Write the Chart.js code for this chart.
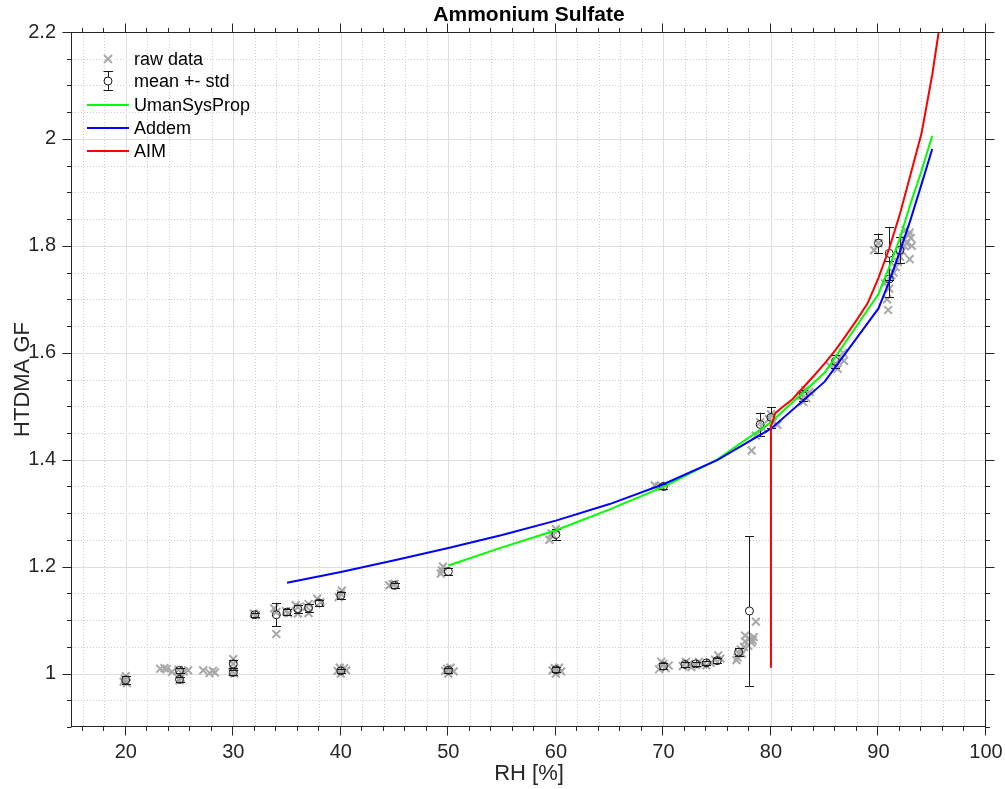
<!DOCTYPE html>
<html><head><meta charset="utf-8">
<script src="https://cdn.jsdelivr.net/npm/chart.js@4.4.1/dist/chart.umd.min.js"></script>
<style>html,body{margin:0;padding:0;background:#fff;overflow:hidden}</style>
</head><body>
<canvas id="c" width="1005" height="789" style="display:block;width:1005px;height:789px"></canvas>
<script>
// ---------- data ----------
const rawRH = [19.8,20.0,20.1,19.9, 23.2,23.6,23.8, 24.3,24.9,25.0,25.1,25.8,25.4, 27.2,27.8,28.3,28.1,
  30.0,30.0,29.9,30.1, 31.9,32.1, 34.0,33.8,34.0, 34.9,35.1, 36.0,36.0,35.8, 37.0,37.0,36.8, 37.8,38.1,
  39.8,40.0,40.1,39.7,40.0,40.3,40.5,39.9, 44.5,44.8,45.0,
  49.4,49.3,49.5,49.7,50.0,50.2,50.5,49.9,
  59.4,59.7,60.0,59.6,59.7,60.0,60.3,60.5,59.9,
  69.2,69.6,69.9,69.6,70.0,70.2,70.5,69.8,
  71.8,72.1,72.4,72.6,73.0,73.3,73.7,74.0,74.4,74.8,75.1,75.3,
  76.8,76.9,77.0,77.2,77.3,77.5,77.6,77.9,77.6,78.0,78.2,78.4,78.3,78.6,78.2,
  78.6,79.0,79.3,80.0,80.2,80.6,79.8,
  82.8,83.0,83.3,83.6,83.2,
  85.5,86.0,86.2,86.5,86.7,86.8,
  89.6,90.0,
  90.6,90.8,90.9,91.0,91.2,91.4,91.6,
  91.8,92.0,92.2,92.4,92.6,92.8,93.0,92.9,93.1,92.9,92.5,92.3];
const rawGF = [0.985,0.995,0.982,0.990, 1.009,1.010,1.008, 1.003,1.007,0.987,0.992,1.006,1.004, 1.006,1.001,1.002,1.005,
  1.027,1.018,1.003,1.000, 1.112,1.109, 1.074,1.122,1.115, 1.117,1.113, 1.124,1.112,1.128, 1.130,1.113,1.125, 1.140,1.133,
  1.143,1.149,1.155,1.005,1.000,1.010,1.006,1.011, 1.165,1.167,1.168,
  1.193,1.187,1.200,1.005,1.000,1.011,1.004,1.009,
  1.250,1.258,1.270,1.262,1.006,1.000,1.011,1.004,1.010,
  1.352,1.350,1.349,1.008,1.018,1.010,1.015,1.022,
  1.014,1.022,1.018,1.012,1.016,1.022,1.017,1.015,1.020,1.026,1.034,1.028,
  1.025,1.030,1.038,1.045,1.037,1.050,1.060,1.052,1.071,1.065,1.058,1.068,1.062,1.097,1.417,
  1.445,1.470,1.458,1.485,1.470,1.465,1.476,
  1.520,1.508,1.515,1.527,1.530,
  1.575,1.580,1.570,1.590,1.600,1.585,
  1.792,1.805,
  1.730,1.700,1.680,1.720,1.745,1.750,1.760,
  1.770,1.780,1.790,1.800,1.805,1.820,1.815,1.825,1.800,1.775,1.830,1.815];

const meanRH  = [20,25,25,30,30,32,34,35,36,37,38,40,40,45,50,50,60,60,70,70,72,73,74,75,77,78,79,80,83,86,90,91,91,92];
const meanGF  = [0.988,1.006,0.989,1.018,1.002,1.110,1.110,1.115,1.121,1.123,1.132,1.146,1.005,1.165,1.191,1.006,1.260,1.007,1.350,1.014,1.017,1.018,1.020,1.024,1.040,1.117,1.466,1.479,1.520,1.584,1.805,1.786,1.738,1.792];
const meanStd = [0.008,0.005,0.005,0.008,0.005,0.004,0.022,0.005,0.008,0.008,0.005,0.006,0.004,0.005,0.007,0.005,0.010,0.005,0.004,0.005,0.005,0.004,0.004,0.005,0.008,0.140,0.022,0.019,0.010,0.012,0.018,0.049,0.033,0.024];

const umanRH = [50,55,60,65,70,75,80,85,90,91,92,93,94,95];
const umanGF = [1.202,1.236,1.268,1.307,1.349,1.400,1.470,1.563,1.710,1.760,1.815,1.880,1.940,2.006];

const addemRH = [35,40,45,50,55,60,65,70,75,80,85,90,91,92,93,94,95];
const addemGF = [1.170,1.190,1.212,1.235,1.259,1.286,1.317,1.354,1.399,1.458,1.546,1.683,1.733,1.790,1.850,1.915,1.981];

const aimRH = [80,80,80.4,81,82,83,84,85,86,87,88,89,90,91,92,93,94,95,95.6];
const aimGF = [1.011,1.462,1.487,1.497,1.513,1.535,1.557,1.580,1.605,1.633,1.662,1.693,1.740,1.795,1.860,1.935,2.010,2.120,2.200];

const xTicks = [20,30,40,50,60,70,80,90,100];
const yTicks = [1.0,1.2,1.4,1.6,1.8,2.0,2.2];

const seriesNames = ['raw data','mean +- std','UmanSysProp','Addem','AIM'];
const titleText = 'Ammonium Sulfate';
const xTitle = 'RH [%]';
const yTitle = 'HTDMA GF';

// ---------- styling ----------
const FONT = "'Liberation Sans', Arial, Helvetica, sans-serif";
const AXC = '#262626';
const GRAY = '#a8a8a8';
const GREEN = '#00ff00', BLUE = '#0000ff', RED = '#ff0000';

const pts = (xs, ys) => xs.map((v, i) => ({x: v, y: ys[i]}));

function seg(ctx, x1, y1, x2, y2) { ctx.beginPath(); ctx.moveTo(x1, y1); ctx.lineTo(x2, y2); ctx.stroke(); }

const deco = {
  id: 'deco',
  beforeDatasetsDraw(chart) {
    const {ctx, chartArea: a, scales: {x, y}} = chart;
    ctx.save();
    ctx.beginPath(); ctx.rect(a.left, a.top, a.right - a.left, a.bottom - a.top); ctx.clip();
    ctx.lineWidth = 1;
    // minor dotted grid
    ctx.strokeStyle = '#cdcdcd';
    ctx.setLineDash([1, 2]);
    for (let v = 16; v < 100; v += 2) {
      if (v % 10 === 0) continue;
      const p = Math.round(x.getPixelForValue(v)) + 0.5;
      seg(ctx, p, a.top, p, a.bottom);
    }
    for (let i = 19; i < 44; i++) {
      if (i % 4 === 0) continue;
      const p = Math.round(y.getPixelForValue(i * 0.05)) + 0.5;
      seg(ctx, a.left, p, a.right, p);
    }
    // major solid grid
    ctx.setLineDash([]);
    ctx.strokeStyle = '#dedede';
    xTicks.forEach(v => { if (v >= 100) return; const p = Math.round(x.getPixelForValue(v)) + 0.5; seg(ctx, p, a.top, p, a.bottom); });
    yTicks.forEach(v => { if (v >= 2.2) return; const p = Math.round(y.getPixelForValue(v)) + 0.5; seg(ctx, a.left, p, a.right, p); });
    ctx.restore();
  },
  afterDatasetDraw(chart, args) {
    if (args.index !== 1) return;
    const {ctx, scales: {x, y}} = chart;
    ctx.save();
    ctx.strokeStyle = '#1a1a1a';
    ctx.lineWidth = 1;
    meanRH.forEach((rh, i) => {
      const px = Math.round(x.getPixelForValue(rh)) + 0.5;
      const yt = y.getPixelForValue(meanGF[i] + meanStd[i]);
      const yb = y.getPixelForValue(meanGF[i] - meanStd[i]);
      const yc = y.getPixelForValue(meanGF[i]);
      seg(ctx, px, yt, px, yc - 4);
      seg(ctx, px, yc + 4, px, yb);
      seg(ctx, px - 4.5, Math.round(yt) + 0.5, px + 4.5, Math.round(yt) + 0.5);
      seg(ctx, px - 4.5, Math.round(yb) + 0.5, px + 4.5, Math.round(yb) + 0.5);
    });
    ctx.restore();
  },
  afterDatasetsDraw(chart) {
    const {ctx, chartArea: a, scales: {x, y}} = chart;
    ctx.save();
    ctx.strokeStyle = AXC;
    ctx.lineWidth = 1;
    const L = Math.round(a.left) - 0.5, R = Math.round(a.right) - 0.5, T = Math.round(a.top) + 0.5, B = Math.round(a.bottom) - 0.5;
    ctx.strokeRect(L, T, R - L, B - T);
    // x ticks
    for (let v = 16; v <= 100; v += 2) {
      const major = v % 10 === 0;
      const len = major ? 9 : 4.5;
      const p = Math.round(x.getPixelForValue(v)) - 0.5;
      seg(ctx, p, B, p, B + len);
      seg(ctx, p, T, p, T - len);
    }
    // y ticks
    for (let i = 18; i <= 44; i++) {
      const major = i % 4 === 0;
      const len = major ? 9 : 4.5;
      const p = Math.round(y.getPixelForValue(i * 0.05)) + 0.5;
      seg(ctx, L, p, L - len, p);
      seg(ctx, R, p, R + len, p);
    }
    ctx.restore();
  },
  afterDraw(chart) {
    const {ctx, chartArea: a} = chart;
    ctx.save();
    ctx.fillStyle = '#000';
    // title
    ctx.font = 'bold 21px ' + FONT;
    ctx.textAlign = 'center'; ctx.textBaseline = 'middle';
    ctx.fillText(titleText, (a.left + a.right) / 2, 15);
    // axis titles
    ctx.fillStyle = AXC;
    ctx.font = '22px ' + FONT;
    ctx.fillText(xTitle, (a.left + a.right) / 2, 774);
    ctx.save();
    ctx.translate(23, (a.top + a.bottom) / 2);
    ctx.rotate(-Math.PI / 2);
    ctx.fillText(yTitle, 0, 0);
    ctx.restore();
    // legend
    const rows = [59, 81, 105, 128, 151];
    const sx = 108, lx1 = 87, lx2 = 129, tx = 134;
    ctx.lineWidth = 2;
    ctx.strokeStyle = GRAY;
    seg(ctx, sx - 4, rows[0] - 4, sx + 4, rows[0] + 4);
    seg(ctx, sx - 4, rows[0] + 4, sx + 4, rows[0] - 4);
    ctx.lineWidth = 1;
    ctx.strokeStyle = '#1a1a1a';
    ctx.beginPath(); ctx.arc(sx, rows[1], 4, 0, Math.PI * 2); ctx.stroke();
    seg(ctx, sx + 0.5, rows[1] - 10, sx + 0.5, rows[1] - 4);
    seg(ctx, sx + 0.5, rows[1] + 4, sx + 0.5, rows[1] + 9);
    seg(ctx, sx - 4.5, rows[1] - 9.5, sx + 5, rows[1] - 9.5);
    seg(ctx, sx - 4.5, rows[1] + 9.5, sx + 5, rows[1] + 9.5);
    ctx.lineWidth = 2;
    [GREEN, BLUE, RED].forEach((c, k) => { ctx.strokeStyle = c; seg(ctx, lx1, rows[k + 2], lx2, rows[k + 2]); });
    ctx.fillStyle = '#000';
    ctx.font = '18px ' + FONT;
    ctx.textAlign = 'left'; ctx.textBaseline = 'middle';
    seriesNames.forEach((n, k) => ctx.fillText(n, tx, rows[k] + 1));
    ctx.restore();
  }
};

Chart.defaults.font.family = FONT;
Chart.defaults.color = AXC;

new Chart(document.getElementById('c'), {
  type: 'scatter',
  data: {
    datasets: [
      {label: seriesNames[0], data: pts(rawRH, rawGF), order: 4, pointStyle: 'crossRot', pointRadius: 5.5,
       borderColor: GRAY, backgroundColor: GRAY, pointBorderWidth: 2, showLine: false},
      {label: seriesNames[1], data: pts(meanRH, meanGF), order: 3, pointStyle: 'circle', pointRadius: 4,
       borderColor: '#1a1a1a', backgroundColor: 'rgba(0,0,0,0)', pointBorderWidth: 1, showLine: false},
      {label: seriesNames[2], data: pts(umanRH, umanGF), order: 2, showLine: true, pointRadius: 0, borderColor: GREEN, borderWidth: 2, tension: 0},
      {label: seriesNames[3], data: pts(addemRH, addemGF), order: 1, showLine: true, pointRadius: 0, borderColor: BLUE, borderWidth: 2, tension: 0},
      {label: seriesNames[4], data: pts(aimRH, aimGF), order: 0, showLine: true, pointRadius: 0, borderColor: RED, borderWidth: 2, tension: 0}
    ]
  },
  options: {
    responsive: false,
    animation: false,
    devicePixelRatio: 1,
    layout: {padding: {left: 0, top: 32, right: 19, bottom: 0}},
    plugins: {legend: {display: false}, title: {display: false}, tooltip: {enabled: false}},
    events: [],
    scales: {
      x: {
        type: 'linear', min: 15, max: 100,
        grid: {display: true, drawOnChartArea: false, drawTicks: false},
        border: {display: false},
        afterBuildTicks: s => { s.ticks = xTicks.map(v => ({value: v})); },
        afterFit: s => { s.height = 62; s.paddingLeft = 0; s.paddingRight = 0; },
        ticks: {autoSkip: false, maxRotation: 0, padding: 13, color: AXC, font: {size: 20, family: FONT},
                callback: v => String(v)}
      },
      y: {
        type: 'linear', min: 0.9, max: 2.2,
        grid: {display: true, drawOnChartArea: false, drawTicks: false},
        border: {display: false},
        afterBuildTicks: s => { s.ticks = yTicks.map(v => ({value: v})); },
        afterFit: s => { s.width = 72; s.paddingTop = 0; s.paddingBottom = 0; },
        ticks: {autoSkip: false, padding: 16, color: AXC, font: {size: 20, family: FONT},
                callback: v => String(Math.round(v * 10) / 10)}
      }
    }
  },
  plugins: [deco]
});
</script>
</body></html>
